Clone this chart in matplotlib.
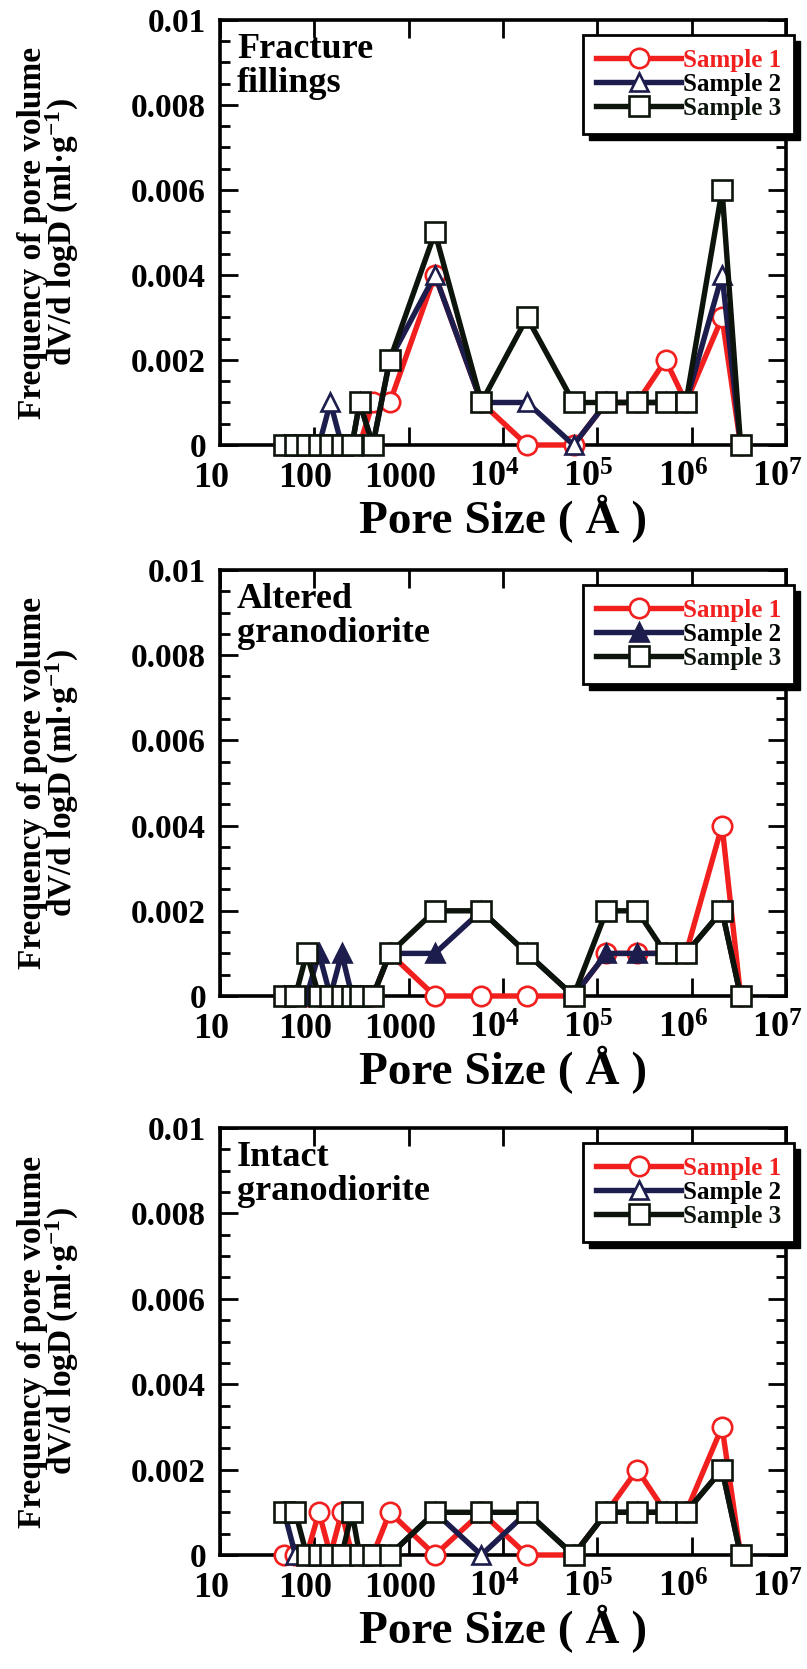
import matplotlib
matplotlib.use("Agg")
import matplotlib.pyplot as plt
from matplotlib.patches import Rectangle
from matplotlib.ticker import MultipleLocator, NullLocator
from matplotlib.transforms import ScaledTranslation

plt.rcParams["font.family"] = ["Liberation Serif", "DejaVu Serif"]
plt.rcParams["font.weight"] = "bold"
plt.rcParams["mathtext.fontset"] = "custom"
plt.rcParams["mathtext.rm"] = "Liberation Serif:bold"
plt.rcParams["mathtext.bf"] = "Liberation Serif:bold"
plt.rcParams["mathtext.it"] = "Liberation Serif:bold"

# pore size bins (Angstrom)
pore_size = [48, 63, 83, 112, 148, 195, 251, 302, 417, 631,
             1900, 5900, 18000, 56000, 125000, 265000, 530000, 870000, 2100000, 3300000]

# dV/dlogD (ml/g) per sample
fracture_s1 = [0, 0, 0, 0, 0, 0, 0, 0, 0.001, 0.001,
               0.004, 0.001, 0, 0, 0.001, 0.001, 0.002, 0.001, 0.003, 0]
fracture_s2 = [0, 0, 0, 0, 0.001, 0, 0, 0.001, 0, 0.002,
               0.004, 0.001, 0.001, 0, 0.001, 0.001, 0.001, 0.001, 0.004, 0]
fracture_s3 = [0, 0, 0, 0, 0, 0, 0, 0.001, 0, 0.002,
               0.005, 0.001, 0.003, 0.001, 0.001, 0.001, 0.001, 0.001, 0.006, 0]

altered_s1 = [0, 0, 0, 0, 0, 0, 0, 0, 0, 0.001,
              0, 0, 0, 0, 0.001, 0.001, 0.001, 0.001, 0.004, 0]
altered_s2 = [0, 0, 0, 0.001, 0, 0.001, 0, 0, 0, 0.001,
              0.001, 0.002, 0.001, 0, 0.001, 0.001, 0.001, 0.001, 0.002, 0]
altered_s3 = [0, 0, 0.001, 0, 0, 0, 0, 0, 0, 0.001,
              0.002, 0.002, 0.001, 0, 0.002, 0.002, 0.001, 0.001, 0.002, 0]

intact_s1 = [0, 0, 0, 0.001, 0, 0.001, 0, 0, 0, 0.001,
             0, 0.001, 0, 0, 0.001, 0.002, 0.001, 0.001, 0.003, 0]
intact_s2 = [0.001, 0, 0, 0, 0, 0, 0, 0, 0, 0,
             0.001, 0, 0.001, 0, 0.001, 0.001, 0.001, 0.001, 0.002, 0]
intact_s3 = [0.001, 0.001, 0, 0, 0, 0, 0.001, 0, 0, 0,
             0.001, 0.001, 0.001, 0, 0.001, 0.001, 0.001, 0.001, 0.002, 0]

panel_titles = ["Fracture\nfillings", "Altered\ngranodiorite", "Intact\ngranodiorite"]
sample_labels = ["Sample 1", "Sample 2", "Sample 3"]
x_ticks = [10, 100, 1000, 1e4, 1e5, 1e6, 1e7]
x_ticklabels = ["10", "100", "1000", r"$10^{4}$", r"$10^{5}$", r"$10^{6}$", r"$10^{7}$"]
y_ticks = [0, 0.002, 0.004, 0.006, 0.008, 0.01]
y_ticklabels = ["0", "0.002", "0.004", "0.006", "0.008", "0.01"]

RED = "#f21f1f"
NAVY = "#1d1d4d"
DARK = "#0c140c"

W, H = 807, 1669
fig = plt.figure(figsize=(W / 100, H / 100), dpi=100)

# axes boxes in pixels: left, top, right, bottom
boxes = [(220, 20, 786, 445), (220, 570, 786, 996), (220, 1128, 786, 1555)]


def draw_panel(ax, title, s1, s2, s3, tri_filled):
    ax.plot(pore_size, s1, "-o", color=RED, lw=3.9, ms=14, mew=1.9,
            mfc="white", mec=RED, label=sample_labels[0], zorder=3, clip_on=False)
    ax.plot(pore_size, s2, "-^", color=NAVY, lw=3.9, ms=13, mew=1.9,
            mfc=NAVY if tri_filled else "white", mec=NAVY,
            label=sample_labels[1], zorder=4, clip_on=False)
    ax.plot(pore_size, s3, "-s", color=DARK, lw=3.9, ms=14, mew=1.9,
            mfc="white", mec=DARK, label=sample_labels[2], zorder=5, clip_on=False)

    ax.set_xscale("log")
    ax.set_xlim(10, 1e7)
    ax.set_ylim(0, 0.01)
    ax.set_xticks(x_ticks)
    ax.set_xticklabels(x_ticklabels)
    ax.xaxis.set_minor_locator(NullLocator())
    ax.set_yticks(y_ticks)
    ax.set_yticklabels(y_ticklabels)
    ax.yaxis.set_minor_locator(MultipleLocator(0.0005))
    ax.tick_params(which="both", direction="in", top=True, right=True, width=2)
    ax.tick_params(which="major", length=13, pad=10)
    ax.tick_params(axis="y", labelsize=24)
    ax.tick_params(axis="x", labelsize=26, pad=12)
    ax.tick_params(which="minor", length=7)
    for sp in ax.spines.values():
        sp.set_linewidth(2.6)
    # the x labels sit a little left of their ticks in the original
    shift = ScaledTranslation(-9 / 100, 0, fig.dpi_scale_trans)
    for lab in ax.get_xticklabels():
        lab.set_transform(lab.get_transform() + shift)

    ax.text(0.03, 0.97, title, transform=ax.transAxes, ha="left", va="top",
            fontsize=26, fontweight="bold", linespacing=1.05)

    ax.set_xlabel("Pore Size ( Å )", fontsize=34, fontweight="bold", labelpad=0)
    ax.set_ylabel("Frequency of pore volume\ndV/d logD (ml·g$^{-1}$)",
                  fontsize=24, fontweight="bold", linespacing=0.88)
    ax.yaxis.set_label_coords(-0.245, 0.5)

    leg = ax.legend(loc="upper right", bbox_to_anchor=(1.015, 0.965), fontsize=18,
                    frameon=True, fancybox=False, framealpha=1, handlelength=3.4,
                    handletextpad=0.05, labelspacing=0.05, borderpad=0.55,
                    borderaxespad=0)
    leg.get_frame().set_edgecolor("black")
    leg.get_frame().set_linewidth(2)
    leg.set_zorder(10)
    for txt, c in zip(leg.get_texts(), [RED, "black", DARK]):
        txt.set_color(c)
    return leg


panels = [
    (fracture_s1, fracture_s2, fracture_s3, False),
    (altered_s1, altered_s2, altered_s3, True),
    (intact_s1, intact_s2, intact_s3, False),
]

axes, legends = [], []
for (l, t, r, b), title, (s1, s2, s3, filled) in zip(boxes, panel_titles, panels):
    ax = fig.add_axes([l / W, 1 - b / H, (r - l) / W, (b - t) / H])
    legends.append(draw_panel(ax, title, s1, s2, s3, filled))
    axes.append(ax)

# heavy drop shadow behind each legend box
fig.canvas.draw()
for ax, leg in zip(axes, legends):
    bb = leg.get_window_extent()
    inv = ax.transAxes.inverted()
    (x0, y0), (x1, y1) = inv.transform([(bb.x0 + 6, bb.y0 - 6), (bb.x1 + 6, bb.y1 - 6)])
    ax.add_patch(Rectangle((x0, y0), x1 - x0, y1 - y0, transform=ax.transAxes,
                           facecolor="black", edgecolor="black", clip_on=False, zorder=9))

fig.savefig("out.png", dpi=100)
